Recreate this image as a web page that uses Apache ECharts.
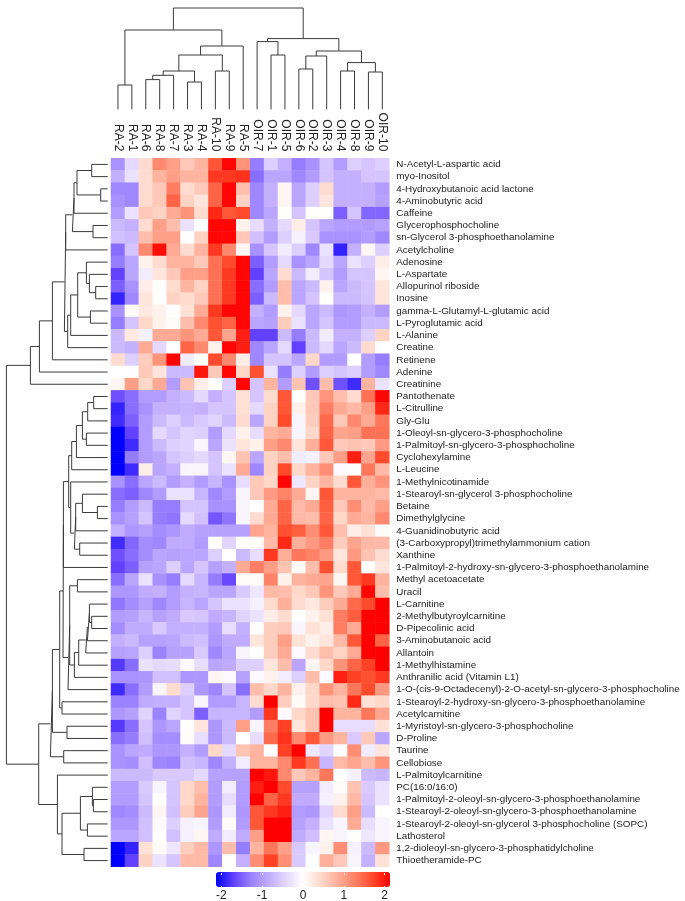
<!DOCTYPE html>
<html><head><meta charset="utf-8">
<style>html,body{margin:0;padding:0;background:#fff}#c{width:685px;height:901px}</style>
<script src="https://cdn.jsdelivr.net/npm/echarts@6/dist/echarts.min.js"></script>
</head><body><div id="c"></div>
<script>
const colNames = ['RA-2','RA-1','RA-6','RA-8','RA-7','RA-3','RA-4','RA-10','RA-9','RA-5','OIR-7','OIR-1','OIR-5','OIR-6','OIR-2','OIR-3','OIR-4','OIR-8','OIR-9','OIR-10'];
const rowNames = ['N-Acetyl-L-aspartic acid','myo-Inositol','4-Hydroxybutanoic acid lactone','4-Aminobutyric acid','Caffeine','Glycerophosphocholine','sn-Glycerol 3-phosphoethanolamine','Acetylcholine','Adenosine','L-Aspartate','Allopurinol riboside','Inosine','gamma-L-Glutamyl-L-glutamic acid','L-Pyroglutamic acid','L-Alanine','Creatine','Retinene','Adenine','Creatinine','Pantothenate','L-Citrulline','Gly-Glu','1-Oleoyl-sn-glycero-3-phosphocholine','1-Palmitoyl-sn-glycero-3-phosphocholine','Cyclohexylamine','L-Leucine','1-Methylnicotinamide','1-Stearoyl-sn-glycerol 3-phosphocholine','Betaine','Dimethylglycine','4-Guanidinobutyric acid','(3-Carboxypropyl)trimethylammonium cation','Xanthine','1-Palmitoyl-2-hydroxy-sn-glycero-3-phosphoethanolamine','Methyl acetoacetate','Uracil','L-Carnitine','2-Methylbutyroylcarnitine','D-Pipecolinic acid','3-Aminobutanoic acid','Allantoin','1-Methylhistamine','Anthranilic acid (Vitamin L1)','1-O-(cis-9-Octadecenyl)-2-O-acetyl-sn-glycero-3-phosphocholine','1-Stearoyl-2-hydroxy-sn-glycero-3-phosphoethanolamine','Acetylcarnitine','1-Myristoyl-sn-glycero-3-phosphocholine','D-Proline','Taurine','Cellobiose','L-Palmitoylcarnitine','PC(16:0/16:0)','1-Palmitoyl-2-oleoyl-sn-glycero-3-phosphoethanolamine','1-Stearoyl-2-oleoyl-sn-glycero-3-phosphoethanolamine','1-Stearoyl-2-oleoyl-sn-glycerol 3-phosphocholine (SOPC)','Lathosterol','1,2-dioleoyl-sn-glycero-3-phosphatidylcholine','Thioetheramide-PC'];
const heatValues = [
[-1.1,-0.4,0.4,1.2,1.0,0.6,0.8,1.6,2.1,1.1,-1.3,-0.5,-0.8,-1.3,-1.1,-0.6,-1.0,-0.5,-0.6,-0.5],
[-0.8,-0.3,0.4,0.8,1.0,0.8,0.8,1.8,1.8,1.85,-1.4,-0.9,-0.9,-1.2,-1.0,-0.6,-0.8,-0.8,-0.6,-0.6],
[-1.2,-1.2,0.4,0.6,1.3,0.4,0.6,1.5,2.1,0.7,-1.2,-0.8,0.1,-0.9,-0.5,0.4,-0.8,-0.8,-0.8,-1.0],
[-1.1,-1.2,0.4,0.6,1.5,0.5,0.3,1.5,2.1,0.5,-1.2,-0.8,0.1,-0.9,-0.5,0.3,-0.8,-0.8,-0.8,-0.95],
[-1.0,-0.3,0.6,0.5,0.9,1.1,0.4,1.9,1.6,1.7,-1.2,-0.9,0,-0.6,0,0,-1.5,-0.6,-1.45,-1.45],
[-0.7,-0.8,0.4,1.0,0.7,-0.3,0,2.1,2.1,0.15,-0.35,-0.8,-0.4,0.2,-0.6,-0.9,-1.0,-1.0,-1.0,-0.95],
[-0.65,-0.7,0.7,1.0,1.0,0,0.5,2.1,2.1,0.6,-0.65,-1.0,-0.5,-0.15,-0.55,-1.1,-1.1,-1.1,-1.0,-1.2],
[-1.4,-0.6,1.2,2.05,0.9,0.4,0.8,1.8,1.2,0.1,-1.1,-0.6,-0.2,-0.5,-1.2,-0.3,-1.9,-0.8,0.1,-0.5],
[-1.3,-0.9,0.15,0.4,0.8,0.8,0.6,1.4,1.7,2.1,-1.5,-1.0,-0.4,-1.1,-0.9,-0.4,-0.9,-0.3,-0.5,0.2],
[-1.7,-0.9,-0.2,0.3,0.6,1.0,1.0,1.4,1.8,2.1,-1.7,-0.9,0.4,-0.7,-0.2,-0.6,-1.0,-0.6,-0.6,0.1],
[-1.5,-1.1,0.2,0,0.4,0.8,0.5,1.4,1.8,2.1,-1.4,-1.0,0.7,-0.9,-0.7,0.15,-0.9,-0.7,-0.6,0.3],
[-1.9,-1.2,0.3,0,0.5,0.4,0.6,1.4,1.8,2.1,-1.5,-0.7,0.7,-0.9,-0.6,0,-0.7,-0.7,-0.6,0.3],
[-1.1,0.05,0.25,0.15,0,0.35,0.9,1.8,2.1,2.1,-0.8,-1.0,0.15,-0.4,-0.9,-0.7,-1.05,-1.0,-0.8,-1.0],
[-1.3,-0.6,0.45,0.15,0.05,0.7,1.2,1.65,1.5,2.1,-0.9,-0.95,0.55,-0.3,-0.9,-0.6,-1.0,-1.0,-0.7,-0.7],
[-0.7,0.25,-0.15,0.9,0.9,1.1,0.9,1.6,0.95,1.95,-1.7,-1.7,-0.7,-1.3,-0.7,-0.2,-0.8,-0.8,-0.5,0.5],
[-0.7,-0.8,0.9,-0.4,0,1.5,1.2,0.15,2.1,1.95,-1.2,-0.9,-0.4,-1.7,-0.7,-0.4,-0.9,-0.7,0.4,0],
[0.4,-0.5,0.55,1.1,2.1,-0.2,0,1.7,1.2,0.2,-1.2,-0.6,-0.6,-0.9,0.45,-1.0,-1.0,0,-1.0,-1.3],
[0,0,0.6,0.3,-0.7,-0.7,2.0,0.6,2.1,0.45,1.65,-0.3,-1.3,-0.5,-1.0,-0.5,-0.6,-0.5,-1.0,-1.2],
[0.1,1.0,0.45,0.9,-1.0,0.65,0.2,0,-0.5,2.1,-0.6,0.8,-1.0,0.65,-1.6,0.7,-1.6,-1.85,0.8,-0.3],
[-1.6,-1.4,-1.0,-1.0,-0.8,-0.7,-0.4,-0.8,-0.6,0.35,-0.6,0.4,1.6,0,0.6,1.1,0.7,0.4,1.4,2.1],
[-1.9,-1.4,-1.1,-0.8,-0.8,-0.75,-0.8,-0.6,-0.6,0.35,-0.4,0.5,1.6,0.15,0.6,1.3,0.9,0.75,1.0,1.9],
[-1.85,-1.5,-1.0,-0.7,-0.5,-0.7,-0.55,-0.45,-0.7,0.4,-0.9,0.5,1.7,-0.1,0.55,1.45,0.6,1.2,0.9,1.35],
[-2.13,-1.7,-1.0,-0.4,-0.6,-0.45,-0.5,-1.0,-0.4,0.15,-0.35,0.8,0.9,-0.1,0.45,1.5,0.95,1.0,1.4,1.4],
[-2.13,-1.85,-1.0,-0.7,-0.5,-0.45,-0.1,-0.9,-0.3,0.3,0.15,1.0,1.2,0.3,0.85,1.6,0.6,0.65,0.6,1.05],
[-2.13,-1.3,-1.0,-0.9,-0.6,-0.5,-0.4,-0.6,0.1,0.65,-0.9,0.5,0.7,-0.2,-0.15,0.6,1.0,1.95,0.95,1.7],
[-2.13,-1.85,0.2,-0.9,-0.8,-0.1,-0.1,-0.6,-0.3,0.9,-1.2,0.5,1.7,0.45,0.8,1.15,-0.05,0,1.35,0.75],
[-1.1,-1.4,-0.9,-0.7,-1.0,-0.8,-1.0,-0.75,-1.1,-0.35,0.6,0.45,2.1,-0.25,0.5,0.8,0.4,1.6,0.85,1.1],
[-1.4,-1.5,-1.2,-1.0,-0.3,-0.3,-0.75,-1.2,-1.0,-0.1,0.6,1.05,1.25,0.9,0.1,1.6,0.8,0.8,0.8,0.75],
[-1.3,-1.0,-0.7,-1.3,-1.3,-0.6,-0.6,-1.1,-1.1,-0.1,0,0.9,1.5,0.75,0.9,1.55,0.6,1.15,0.75,1.0],
[-1.1,-0.95,-0.6,-1.3,-1.35,-0.4,-0.65,-1.55,-1.35,-0.1,0.4,0.9,1.5,0.75,0.7,1.5,0.45,0.9,0.8,1.2],
[-0.8,-1.05,-0.95,-1.15,-1.05,-0.85,-0.95,-0.95,-0.95,-0.95,0.95,0.8,1.65,1.55,1.15,1.6,0.7,0.2,0.35,0.05],
[-1.85,-1.45,-1.15,-1.2,-0.85,-0.85,-1.0,0,-0.45,0,0.05,0.75,1.9,0.85,1.05,1.3,0.55,0.95,0.75,0.75],
[-1.6,-1.4,-1.15,-0.9,-0.95,-0.9,-0.9,-0.5,0,-0.7,-0.35,1.8,0.85,1.35,1.25,1.05,0.3,1.05,0.65,0.4],
[-1.7,-1.5,-0.95,-0.9,-0.5,-0.9,-0.6,-0.95,-0.8,0.9,1.3,1.0,0.65,0.05,0.7,1.65,0.4,1.6,0,0.3],
[-1.4,-0.9,-0.3,-1.1,-1.3,-0.4,-0.75,-1.3,-1.65,0.05,0.05,1.25,0.15,0.8,0.9,0.95,0.1,1.6,1.8,0.8],
[-1.05,-1.05,-0.85,-0.8,-1.0,-0.8,-0.75,-0.9,-0.9,-0.55,-0.25,0.75,0.7,0.45,0.6,1.1,0.6,0.9,2.1,0.7],
[-1.35,-1.15,-0.95,-1.2,-1.0,-0.75,-0.9,-0.6,-0.3,-0.3,-0.15,0.4,0.85,0.4,0.25,0.55,0.9,1.45,1.7,2.13],
[-1.0,-0.95,-0.75,-0.95,-0.85,-0.55,-0.6,-0.85,-0.75,-0.45,-0.3,0.2,0.4,0,0.15,0.35,1.3,1.55,2.13,2.13],
[-1.15,-0.85,-0.85,-0.55,-0.8,-0.8,-0.8,-1.0,-0.35,-0.8,0,0.55,0.6,-0.1,0.35,0.2,1.3,0.9,2.13,2.13],
[-0.8,-0.7,-0.95,-0.95,-0.9,-0.7,-0.65,-1.05,-0.85,-0.85,0.3,0.55,1.0,0.35,0.15,0.3,0.75,1.6,2.13,1.5],
[-0.95,-0.9,-0.5,-1.25,-0.95,-0.95,-0.55,-1.2,-0.9,-0.1,0,0.55,0.9,-0.05,0.4,0.7,0.5,0.9,2.13,2.13],
[-1.75,-1.4,-0.3,-0.4,-0.35,-0.05,-0.35,-0.9,-0.85,-0.5,-0.5,0.3,0.7,-0.9,0.1,0.45,1.1,1.5,1.75,2.13],
[-1.1,-1.1,-1.05,-0.65,-0.65,-1.05,-1.05,0.1,-0.05,-0.95,-0.05,0.15,-0.2,-0.5,0.7,-0.05,1.95,1.75,1.65,1.8],
[-1.85,-1.4,-1.0,-0.1,0.4,-0.5,-1.05,-1.2,-0.6,-1.4,0.7,0.45,0.8,0.15,0.45,1.1,0.8,1.35,1.7,1.05],
[-1.25,-1.25,-0.85,-0.8,-0.8,-0.6,-0.1,-1.0,-1.0,-0.75,0.4,2.13,0.55,0.05,0.45,0.7,0.65,1.9,0.35,0.45],
[-1.05,-0.95,-0.45,-1.25,-0.45,-0.6,-1.5,-0.75,-0.75,-0.75,-1.0,1.8,-0.05,0.45,0.65,2.13,0.8,0.8,1.35,0.95],
[-1.75,-1.4,-0.6,-1.05,-0.9,0.02,0.3,-1.05,-0.7,1.0,-0.1,1.3,1.75,0.3,0.65,2.13,-0.35,-0.35,-0.35,0.35],
[-1.4,-1.3,-0.65,-1.15,-1.15,0.03,-0.35,-1.05,-0.7,0,-0.35,1.45,1.85,1.2,1.6,1.05,0.8,-0.55,0.6,-0.9],
[-1.1,-0.9,-0.85,-1.05,-1.05,-0.8,-1.0,0.45,-0.4,0.65,0.8,0.02,1.75,2.13,-0.25,-0.45,0.02,1.15,-0.2,0.3],
[-1.1,-1.15,-0.65,-1.2,-1.25,-0.65,-0.75,-1.2,-0.8,-0.2,0.8,0.8,1.2,1.8,1.4,-0.75,0.75,0.95,0.7,1.1],
[-0.7,-0.7,-0.7,-0.55,-0.55,-0.55,-0.4,-0.95,-0.95,-0.95,2.13,2.0,1.2,0.6,0.8,1.35,0,-0.15,-0.7,-0.75],
[-1.0,-1.0,-0.55,-0.1,-0.6,0.45,0.7,-1.0,-0.2,-1.0,1.95,2.13,1.7,-0.95,-0.95,-0.2,0.05,0.65,-0.55,-0.3],
[-1.0,-1.0,-0.6,0,-0.6,0.45,0.8,-1.0,-0.35,-1.0,2.13,1.5,1.8,-0.85,-0.85,-0.15,0.15,0.75,-0.6,-0.3],
[-1.2,-1.15,-0.7,0.1,-0.65,0.55,0.95,-1.05,-0.2,-1.05,1.6,1.8,1.95,-1.0,-1.05,-0.45,0.4,1.0,-0.7,0],
[-1.05,-1.05,-0.65,-0.05,-0.5,-0.15,-0.1,-1.0,0.05,-1.0,1.6,2.13,2.13,-0.95,-0.8,-0.3,-0.1,0.9,-0.35,-0.1],
[-0.9,-0.9,-0.65,0,-0.65,-0.15,0.1,-0.85,-0.2,-0.85,1.0,2.13,2.13,-0.85,-0.65,0.1,-0.1,0,-0.25,-0.1],
[-2.13,-1.9,0.35,0.05,-0.25,0.55,0.75,-1.05,0.7,-1.3,0.8,1.35,1.0,-0.55,-0.1,0.15,1.15,-0.15,-0.7,1.05],
[-2.13,-1.7,0.5,-0.3,-0.6,0.75,0.75,-1.2,0,-0.8,1.15,1.75,1.15,-0.55,0,0.85,0.6,-0.1,-0.8,0.35]
];
// Linkage tables: [childA, childB, height]. Ids below the leaf count are leaves; others are earlier merges.
const colMerges = [[0,1,24.3],[2,3,29.7],[21,4,34],[5,6,27.3],[22,23,38.3],[7,8,38.3],[24,25,54.3],[26,9,63.3],[20,27,79.3],[11,12,54.3],[10,29,67.7],[13,14,40.3],[31,15,53.3],[16,17,38.3],[18,19,37.3],[33,34,46.7],[32,35,58.3],[30,36,70.7],[28,37,101.3]];
const rowMerges = [[0,1,16],[2,3,7],[58,59,30.7],[60,4,33.7],[5,6,14.7],[61,62,35.3],[63,7,42],[10,11,12],[9,65,18.3],[8,66,21.3],[12,13,17.3],[67,68,30],[69,14,37],[70,15,40],[64,71,43.3],[72,16,55.3],[73,17,68.3],[74,18,77.3],[19,20,14],[76,21,20],[22,23,21.3],[77,78,25.3],[79,24,31.3],[80,25,36],[28,29,10.3],[27,82,25.3],[83,30,32],[31,32,28],[84,85,33.3],[26,86,37],[81,87,39],[88,33,44.3],[34,35,30.3],[37,38,16],[36,91,18.3],[92,39,20.3],[93,40,22],[94,41,29],[95,42,33.3],[90,96,38],[97,43,39.7],[89,98,44.7],[44,45,45.7],[99,100,48],[46,47,40.7],[101,102,55.3],[48,49,44],[103,104,57.3],[52,53,14.3],[51,106,15.3],[54,55,20.3],[107,108,27.3],[56,57,23.7],[109,110,45.7],[50,111,50.3],[105,112,69],[75,113,101.3]];
const colorRange = ['#0000ff','#6040ff','#9880ff','#c0abff','#e3d6ff','#ffffff','#ffdacc','#ffaf9a','#ff8065','#ff4a2a','#ff0000'];
const scaleLimit = 2.13;
const scaleTicks = [-2,-1,0,1,2];

function dendroSegments(merges, leafCount){
  const pos = [], hgt = [];
  for(let i=0;i<leafCount;i++){pos.push(i+0.5);hgt.push(0);}
  const segs = [];
  merges.forEach(([a,b,h])=>{
    segs.push([pos[a],hgt[a]],[pos[a],h],[pos[b],h],[pos[b],hgt[b]],['-','-']);
    pos.push((pos[a]+pos[b])/2);hgt.push(h);
  });
  return segs;
}
const treeLine = {color:'#3a3a3a',width:1};
const colSeg = dendroSegments(colMerges,colNames.length);
const rowSeg = dendroSegments(rowMerges,rowNames.length).map(p=>[p[1],p[0]]);
const cells = [];
heatValues.forEach((row,r)=>row.forEach((v,c)=>cells.push([c,r,v])));
const tickAxis = pos=>({gridIndex:3,type:'value',position:pos,min:-scaleLimit,max:scaleLimit,z:10,
  axisLine:{show:false},splitLine:{show:false},
  axisTick:{show:true,inside:true,length:2,customValues:scaleTicks,lineStyle:{color:'#fff',width:1}},
  axisLabel:{show:pos==='bottom',customValues:scaleTicks,color:'#222',fontSize:12,fontFamily:'Liberation Sans',margin:2,formatter:v=>String(v)}});

const chart = echarts.init(document.getElementById('c'),null,{renderer:'canvas'});
chart.setOption({
  animation:false,backgroundColor:'#fff',
  grid:[
    {left:111,top:158.3,width:278.3,height:708.4,outerBoundsMode:'none'},
    {left:111,top:8,width:278.3,height:101.3,outerBoundsMode:'none'},
    {left:0,top:158.3,width:107.7,height:708.4,outerBoundsMode:'none'},
    {left:216,top:873,width:174,height:15,outerBoundsMode:'none'}
  ],
  xAxis:[
    {gridIndex:0,type:'category',position:'top',data:colNames,axisLine:{show:false},axisTick:{show:false},splitLine:{show:false},
     axisLabel:{rotate:90,interval:0,margin:7,color:'#222',fontSize:12,fontFamily:'Liberation Sans'}},
    {gridIndex:1,type:'value',min:0,max:colNames.length,show:false},
    {gridIndex:2,type:'value',min:0,max:107.7,inverse:true,show:false},
    tickAxis('bottom'),
    tickAxis('top')
  ],
  yAxis:[
    {gridIndex:0,type:'category',position:'right',inverse:true,data:rowNames,axisLine:{show:false},axisTick:{show:false},splitLine:{show:false},
     axisLabel:{interval:0,margin:7,color:'#222',fontSize:9.85,fontFamily:'Liberation Sans'}},
    {gridIndex:1,type:'value',min:0,max:101.3,show:false},
    {gridIndex:2,type:'value',min:0,max:rowNames.length,inverse:true,show:false},
    {gridIndex:3,type:'value',min:0,max:1,show:false}
  ],
  visualMap:{type:'continuous',seriesIndex:0,min:-scaleLimit,max:scaleLimit,orient:'horizontal',left:201,top:857,itemWidth:15,itemHeight:174,
    calculable:false,realtime:false,text:null,showLabel:false,inRange:{color:colorRange},hoverLink:false,z:4},
  series:[
    {type:'heatmap',xAxisIndex:0,yAxisIndex:0,data:cells,progressive:0,emphasis:{disabled:true},itemStyle:{borderWidth:0}},
    {type:'line',xAxisIndex:1,yAxisIndex:1,data:colSeg,symbol:'none',connectNulls:false,lineStyle:treeLine,clip:false,silent:true},
    {type:'line',xAxisIndex:2,yAxisIndex:2,data:rowSeg,symbol:'none',connectNulls:false,lineStyle:treeLine,clip:false,silent:true}
  ]
});
</script></body></html>
